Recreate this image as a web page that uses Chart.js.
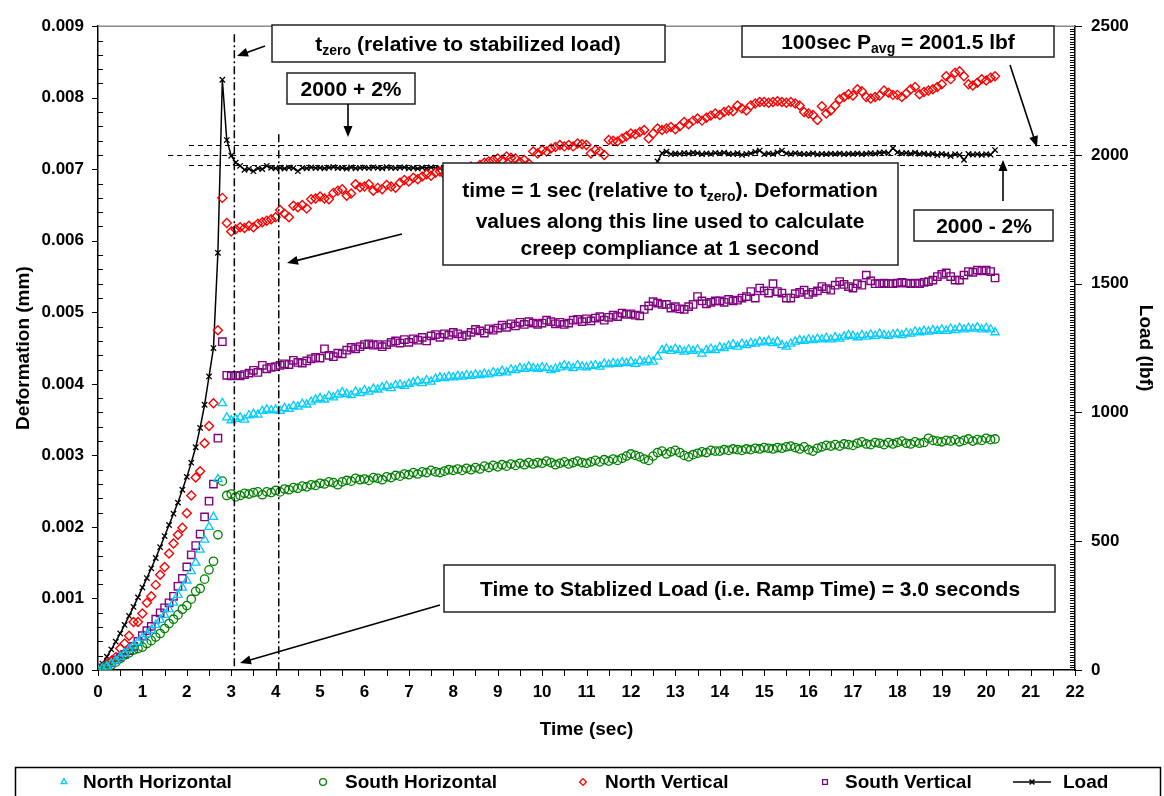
<!DOCTYPE html>
<html><head><meta charset="utf-8">
<script src="https://cdn.jsdelivr.net/npm/chart.js@4.4.1/dist/chart.umd.min.js"></script>
<style>html,body{margin:0;padding:0;background:#fff;overflow:hidden}canvas{display:block}</style>
</head><body>
<canvas id="chart" width="1164" height="796"></canvas>
<script>
// ---------------- DATA ----------------
const time = [
0,0.1,0.2,0.3,0.4,0.5,0.6,0.7,0.8,0.9,
1,1.1,1.2,1.3,1.4,1.5,1.6,1.7,1.8,1.9,
2,2.1,2.2,2.3,2.4,2.5,2.6,2.7,2.8,2.9,
3,3.1,3.2,3.3,3.4,3.5,3.6,3.7,3.8,3.9,
4,4.1,4.2,4.3,4.4,4.5,4.6,4.7,4.8,4.9,
5,5.1,5.2,5.3,5.4,5.5,5.6,5.7,5.8,5.9,
6,6.1,6.2,6.3,6.4,6.5,6.6,6.7,6.8,6.9,
7,7.1,7.2,7.3,7.4,7.5,7.6,7.7,7.8,7.9,
8,8.1,8.2,8.3,8.4,8.5,8.6,8.7,8.8,8.9,
9,9.1,9.2,9.3,9.4,9.5,9.6,9.7,9.8,9.9,
10,10.1,10.2,10.3,10.4,10.5,10.6,10.7,10.8,10.9,
11,11.1,11.2,11.3,11.4,11.5,11.6,11.7,11.8,11.9,
12,12.1,12.2,12.3,12.4,12.5,12.6,12.7,12.8,12.9,
13,13.1,13.2,13.3,13.4,13.5,13.6,13.7,13.8,13.9,
14,14.1,14.2,14.3,14.4,14.5,14.6,14.7,14.8,14.9,
15,15.1,15.2,15.3,15.4,15.5,15.6,15.7,15.8,15.9,
16,16.1,16.2,16.3,16.4,16.5,16.6,16.7,16.8,16.9,
17,17.1,17.2,17.3,17.4,17.5,17.6,17.7,17.8,17.9,
18,18.1,18.2,18.3,18.4,18.5,18.6,18.7,18.8,18.9,
19,19.1,19.2,19.3,19.4,19.5,19.6,19.7,19.8,19.9,
20,20.1,20.2];

const northHorizontal = [
0,0.00002,0.00005,0.00009,0.00013,0.00018,0.00023,0.00029,0.00034,0.00039,
0.00045,0.0005,0.00056,0.00063,0.0007,0.00077,0.00085,0.00094,0.00105,0.00115,
0.00125,0.00138,0.0015,0.00168,0.00182,0.002,0.00214,0.00267,0.00373,0.00353,
0.00349,0.00351,0.00353,0.0035,0.00356,0.00358,0.00357,0.00362,0.00364,0.00363,
0.00364,0.00362,0.00366,0.00365,0.00369,0.00368,0.00372,0.00371,0.00375,0.00378,
0.0038,0.00378,0.00383,0.00381,0.00385,0.00388,0.00386,0.00384,0.00389,0.00387,
0.00391,0.00389,0.00393,0.00392,0.00395,0.00397,0.00394,0.00398,0.00399,0.00397,
0.004,0.00402,0.00404,0.00401,0.00405,0.00403,0.00407,0.00409,0.00408,0.0041,
0.00409,0.00411,0.0041,0.00412,0.00411,0.00413,0.00412,0.00414,0.00413,0.00416,
0.00415,0.00418,0.00416,0.0042,0.00419,0.00422,0.00421,0.00424,0.00422,0.00421,
0.00423,0.00422,0.00419,0.00421,0.00423,0.00426,0.00424,0.00422,0.00426,0.00424,
0.00423,0.00425,0.00426,0.00424,0.00428,0.00427,0.00429,0.00428,0.0043,0.00429,
0.00431,0.00428,0.00432,0.0043,0.00433,0.00431,0.00438,0.00447,0.00449,0.00446,
0.00449,0.00447,0.00445,0.00448,0.00446,0.00448,0.00442,0.00447,0.00449,0.00447,
0.00451,0.0045,0.00453,0.00455,0.00452,0.00456,0.00454,0.00457,0.00456,0.00459,
0.00458,0.0046,0.00457,0.00459,0.00454,0.00452,0.00456,0.00459,0.00461,0.0046,
0.00462,0.00461,0.00463,0.00462,0.00464,0.00462,0.00465,0.00463,0.00466,0.00468,
0.00467,0.00465,0.00468,0.00466,0.00469,0.00467,0.0047,0.00468,0.00467,0.00469,
0.0047,0.00468,0.00471,0.0047,0.00473,0.00472,0.00474,0.00473,0.00475,0.00474,
0.00476,0.00474,0.00477,0.00475,0.00478,0.00476,0.00478,0.00477,0.00479,0.00476,
0.00478,0.00476,0.00472];

const southHorizontal = [
0,0.00003,0.00005,0.00007,0.00011,0.00016,0.00021,0.00024,0.00028,0.0003,
0.00032,0.00037,0.00041,0.00046,0.00051,0.00058,0.00065,0.00071,0.00077,0.00085,
0.0009,0.00099,0.0011,0.00114,0.00127,0.0014,0.00152,0.00189,0.00264,0.00244,
0.00246,0.00242,0.00244,0.00247,0.00246,0.00248,0.00249,0.00245,0.00249,0.00248,
0.00251,0.00249,0.00253,0.00252,0.00255,0.00254,0.00257,0.00256,0.00259,0.00258,
0.00261,0.0026,0.00263,0.00262,0.00259,0.00263,0.00265,0.00264,0.00268,0.00266,
0.00267,0.00265,0.00269,0.00268,0.00266,0.0027,0.00269,0.00272,0.00271,0.00274,
0.00273,0.00276,0.00274,0.00277,0.00276,0.00279,0.00277,0.00276,0.00278,0.0028,
0.00279,0.00281,0.00279,0.00282,0.0028,0.00283,0.00281,0.00285,0.00283,0.00286,
0.00284,0.00287,0.00285,0.00288,0.00286,0.00289,0.00287,0.0029,0.00288,0.0029,
0.00289,0.00292,0.0029,0.00287,0.00289,0.00291,0.00288,0.0029,0.00292,0.0029,
0.00289,0.00291,0.00293,0.00291,0.00294,0.00292,0.00295,0.00293,0.00296,0.00299,
0.00302,0.003,0.00298,0.00295,0.00293,0.00299,0.00304,0.00306,0.00302,0.00305,
0.00307,0.00304,0.003,0.00298,0.00301,0.00303,0.00305,0.00304,0.00307,0.00306,
0.00306,0.00308,0.00307,0.00309,0.00308,0.00307,0.00309,0.00308,0.0031,0.00309,
0.00311,0.0031,0.00309,0.00311,0.0031,0.00312,0.00313,0.00311,0.00309,0.00312,
0.00308,0.00306,0.0031,0.00312,0.00314,0.00313,0.00315,0.00313,0.00316,0.00315,
0.00314,0.00317,0.00319,0.00316,0.00315,0.00318,0.00317,0.00315,0.00318,0.00316,
0.00318,0.0032,0.00317,0.00316,0.00319,0.00317,0.00318,0.00324,0.00321,0.0032,
0.00319,0.00321,0.0032,0.00322,0.00319,0.00321,0.00323,0.0032,0.00322,0.00321,
0.00324,0.00322,0.00323];

const northVertical = [
0,0.00003,0.00008,0.00013,0.00018,0.0003,0.00037,0.00048,0.00067,0.00067,
0.00079,0.00094,0.00103,0.00119,0.00133,0.00144,0.00163,0.00177,0.00189,0.00199,
0.00219,0.00244,0.00269,0.00278,0.00317,0.00341,0.00373,0.00475,0.0066,0.00625,
0.00613,0.00616,0.00619,0.00618,0.00621,0.00619,0.00624,0.00626,0.00628,0.0063,
0.00633,0.00643,0.00638,0.00633,0.00649,0.00647,0.0065,0.00645,0.00658,0.00659,
0.00662,0.00659,0.00658,0.00667,0.0067,0.00672,0.00663,0.00666,0.00679,0.00675,
0.00676,0.00679,0.0067,0.00674,0.00672,0.00678,0.00676,0.00674,0.00681,0.00685,
0.00683,0.00688,0.00686,0.0069,0.00693,0.00691,0.00695,0.00697,0.00693,0.00695,
0.00698,0.00695,0.00697,0.007,0.00704,0.00702,0.00706,0.00709,0.00711,0.00713,
0.00715,0.00713,0.00718,0.00716,0.00715,0.0071,0.00713,0.00708,0.00725,0.00722,
0.00727,0.00725,0.00729,0.00731,0.00734,0.00732,0.00734,0.00732,0.00736,0.00735,
0.00734,0.00722,0.00727,0.00725,0.0072,0.00741,0.0074,0.00739,0.00743,0.00746,
0.0075,0.00749,0.00752,0.00755,0.00743,0.0075,0.00757,0.00755,0.00757,0.00759,
0.00756,0.0076,0.00766,0.00763,0.00768,0.00771,0.00768,0.00772,0.00775,0.00778,
0.00776,0.0078,0.00782,0.00781,0.00789,0.00785,0.00782,0.00789,0.00792,0.00794,
0.00794,0.00793,0.00794,0.00795,0.00794,0.00793,0.00794,0.00792,0.00789,0.0078,
0.00778,0.00776,0.00769,0.00788,0.00778,0.00782,0.00789,0.00798,0.00801,0.00805,
0.00803,0.00812,0.00809,0.00801,0.00799,0.00801,0.00803,0.0081,0.00807,0.00804,
0.00804,0.00801,0.00806,0.00812,0.00815,0.00805,0.00808,0.0081,0.00812,0.00815,
0.00819,0.0083,0.00826,0.00835,0.00837,0.0083,0.00819,0.00817,0.00821,0.00826,
0.00824,0.00828,0.0083];

const southVertical = [
0,0.00003,0.00006,0.0001,0.00014,0.00018,0.00022,0.00027,0.00033,0.0004,
0.00048,0.00055,0.00061,0.00071,0.0008,0.00087,0.00094,0.00103,0.00117,0.00128,
0.00144,0.00161,0.00174,0.0019,0.00214,0.00236,0.0026,0.00324,0.00459,0.00412,
0.00411,0.00412,0.00411,0.00413,0.00415,0.00419,0.00416,0.00426,0.00421,0.00423,
0.00424,0.00426,0.00428,0.00427,0.00433,0.0043,0.00429,0.00432,0.00435,0.00437,
0.00436,0.00449,0.0044,0.00438,0.00443,0.00442,0.00447,0.00451,0.00449,0.00452,
0.00455,0.00456,0.00454,0.00455,0.00452,0.00455,0.00458,0.0046,0.00457,0.00462,
0.00458,0.00463,0.00461,0.00465,0.0046,0.00467,0.00469,0.00465,0.0047,0.00468,
0.00472,0.0047,0.00466,0.00468,0.00472,0.00476,0.00474,0.00471,0.00477,0.00475,
0.00478,0.00482,0.00479,0.00484,0.00481,0.00486,0.00483,0.00487,0.00485,0.00483,
0.00485,0.00489,0.00487,0.00484,0.00486,0.00483,0.00485,0.00489,0.0049,0.00487,
0.00491,0.00488,0.00492,0.00494,0.00489,0.00493,0.00496,0.00494,0.00499,0.00497,
0.00498,0.00496,0.00495,0.00504,0.00509,0.00515,0.00513,0.00511,0.00511,0.00506,
0.00508,0.00505,0.00504,0.00508,0.00511,0.00522,0.00516,0.00512,0.00514,0.00516,
0.00516,0.00514,0.00518,0.00516,0.00517,0.0052,0.00522,0.00529,0.0052,0.00534,
0.0053,0.00527,0.0054,0.00529,0.00527,0.0052,0.0052,0.00526,0.00528,0.00531,
0.00525,0.00528,0.0053,0.00536,0.00533,0.00531,0.00538,0.00543,0.00539,0.00536,
0.00534,0.0054,0.00538,0.00552,0.00544,0.0054,0.0054,0.00541,0.0054,0.0054,
0.00541,0.00542,0.00541,0.0054,0.00541,0.0054,0.00542,0.00543,0.00545,0.0055,
0.00553,0.00555,0.0055,0.00545,0.00545,0.00552,0.00557,0.00556,0.00559,0.00558,
0.00559,0.00557,0.00548];

const load = [
0,25,52,80,110,142,175,210,245,282,
320,357,395,435,477,520,563,607,650,700,
750,805,865,940,1030,1140,1250,1620,2292,2058,
1997,1970,1958,1942,1946,1937,1948,1945,1958,1950,
1948,1950,1947,1951,1949,1937,1950,1948,1952,1949,
1950,1948,1951,1953,1949,1950,1947,1952,1948,1950,
1951,1949,1952,1950,1948,1953,1950,1949,1951,1952,
1948,1950,1947,1951,1949,1952,1950,1948,1946,1949,
1951,1948,1946,1944,1949,1947,1950,1945,1948,1951,
1949,1952,1950,1953,1937,1948,1951,1949,1952,1950,
1948,1950,1947,1936,1949,1951,1948,1950,1952,1949,
1950,1947,1951,1936,1949,1952,1948,1950,1947,1930,
1945,1948,1944,1946,1947,1950,1975,2007,2013,2003,
2006,2004,2008,2005,2009,2007,2003,2006,2004,2008,
2006,2009,2005,2003,2007,2000,2004,2006,2012,2017,
2003,2006,2004,2010,2017,2006,2004,2007,2005,2003,
2004,2006,2002,2004,2003,2005,2004,2006,2003,2005,
2004,2006,2003,2005,2007,2005,2009,2010,2007,2026,
2010,2006,2008,2005,2009,2004,2006,2002,2005,1999,
2004,2001,1996,2003,2000,1981,2004,2001,2003,2000,
2003,2001,2019];

const xTicks = {min:0, max:22, step:1};
const deformTicks = {min:0, max:0.009, step:0.001};
const loadTicks = {min:0, max:2500, step:500};

// reference levels used by the annotation lines
const loadUpper = 2040, loadAvg = 2001.5, loadLower = 1960;
const tZero = 3.07, tOneSec = 4.07;

// ---------------- DRAWING ----------------
const F = '"Liberation Sans", Arial, Helvetica, sans-serif';
function pts(s){ return time.map((t,i)=>({x:t, y:s[i]})); }

function richWidth(ctx, segs, size){
  let w=0;
  for(const s of segs){ ctx.font = 'bold '+(s.sub?Math.round(size*0.68):size)+'px '+F; w+=ctx.measureText(s.t).width; }
  return w;
}
function drawRich(ctx, segs, cx, cy, size){
  const w = richWidth(ctx, segs, size);
  let x = cx - w/2;
  const base = cy + size*0.36;
  ctx.textAlign='left'; ctx.textBaseline='alphabetic'; ctx.fillStyle='#000';
  for(const s of segs){
    const fs = s.sub?Math.round(size*0.68):size;
    ctx.font='bold '+fs+'px '+F;
    ctx.fillText(s.t, x, s.sub ? base + size*0.22 : base);
    x += ctx.measureText(s.t).width;
  }
}
function arrow(ctx,x1,y1,x2,y2){
  const a=Math.atan2(y2-y1,x2-x1), L=11, W=4.5;
  ctx.beginPath(); ctx.moveTo(x1,y1); ctx.lineTo(x2-L*0.7*Math.cos(a), y2-L*0.7*Math.sin(a)); ctx.stroke();
  ctx.beginPath(); ctx.moveTo(x2,y2);
  ctx.lineTo(x2-L*Math.cos(a)+W*Math.sin(a), y2-L*Math.sin(a)-W*Math.cos(a));
  ctx.lineTo(x2-L*Math.cos(a)-W*Math.sin(a), y2-L*Math.sin(a)+W*Math.cos(a));
  ctx.closePath(); ctx.fill();
}
function box(ctx,x1,y1,x2,y2){
  ctx.fillStyle='#fff'; ctx.fillRect(x1,y1,x2-x1,y2-y1);
  ctx.strokeStyle='#222'; ctx.lineWidth=1.5; ctx.strokeRect(x1,y1,x2-x1,y2-y1);
}

const decor = {
  id:'decor',
  afterDraw(chart){
    const {ctx, chartArea:a, scales} = chart;
    const x=scales.x, y=scales.y, y1=scales.y1;
    ctx.save();
    // top frame line
    ctx.strokeStyle='#8a8a8a'; ctx.lineWidth=1.5;
    ctx.beginPath(); ctx.moveTo(a.left,a.top); ctx.lineTo(a.right,a.top); ctx.stroke();
    // tick marks
    ctx.strokeStyle='#000'; ctx.lineWidth=1;
    ctx.beginPath();
    for(let k=0;k<=44;k++){ const px=Math.round(x.getPixelForValue(k*0.5))+0.5; ctx.moveTo(px,a.bottom); ctx.lineTo(px,a.bottom+6); }
    for(let k=0;k<=45;k++){ const py=Math.round(y.getPixelForValue(k*0.0002))+0.5;
      if(k%5===0){ ctx.moveTo(a.left-6,py); ctx.lineTo(a.left,py);} else { ctx.moveTo(a.left,py); ctx.lineTo(a.left+5,py);} }
    for(let k=0;k<=250;k++){ const py=Math.round(y1.getPixelForValue(k*10))+0.5;
      if(k%50===0){ ctx.moveTo(a.right,py); ctx.lineTo(a.right+7,py);} else { ctx.moveTo(a.right-5,py); ctx.lineTo(a.right,py);} }
    ctx.stroke();

    // dash-dot vertical lines
    ctx.strokeStyle='#000'; ctx.lineWidth=1.5; ctx.setLineDash([8,3,2,3]);
    let px = x.getPixelForValue(tZero);
    ctx.beginPath(); ctx.moveTo(px, a.top+8); ctx.lineTo(px, a.bottom); ctx.stroke();
    px = x.getPixelForValue(tOneSec);
    ctx.beginPath(); ctx.moveTo(px, a.top+108); ctx.lineTo(px, a.bottom); ctx.stroke();
    // dashed horizontal lines
    ctx.lineWidth=1.2; ctx.setLineDash([5,4]);
    [[loadUpper,2.05],[loadAvg,1.58],[loadLower,2.05]].forEach(([v,t0])=>{
      const py = Math.round(y1.getPixelForValue(v))+0.5;
      ctx.beginPath(); ctx.moveTo(x.getPixelForValue(t0), py); ctx.lineTo(a.right, py); ctx.stroke();
    });
    ctx.setLineDash([]);

    // annotation boxes
    const S=21;
    box(ctx,272,25,665,62);
    drawRich(ctx,[{t:'t'},{t:'zero',sub:true},{t:' (relative to stabilized load)'}],468,43,S);
    box(ctx,287,73,415,104);
    drawRich(ctx,[{t:'2000 + 2%'}],351,88.5,S);
    box(ctx,742,26,1054,57);
    drawRich(ctx,[{t:'100sec P'},{t:'avg',sub:true},{t:' = 2001.5 lbf'}],898,41,S);
    box(ctx,914,210,1053,241);
    drawRich(ctx,[{t:'2000 - 2%'}],984,225.5,S);
    box(ctx,443,163,898,265);
    drawRich(ctx,[{t:'time = 1 sec (relative to t'},{t:'zero',sub:true},{t:'). Deformation'}],670,189,S);
    drawRich(ctx,[{t:'values along this line used to calculate'}],670,220,S);
    drawRich(ctx,[{t:'creep compliance at 1 second'}],670,247,S);
    box(ctx,444,565,1055,612);
    drawRich(ctx,[{t:'Time to Stablized Load (i.e. Ramp Time) = 3.0 seconds'}],750,588,S);

    // arrows
    ctx.strokeStyle='#000'; ctx.fillStyle='#000'; ctx.lineWidth=1.6;
    arrow(ctx,265,46,237,56);
    arrow(ctx,348,104,348,137);
    arrow(ctx,1010,65,1037,147);
    arrow(ctx,1003,201,1003,160);
    arrow(ctx,402,234,287,263);
    arrow(ctx,440,605,240,663);

    // legend
    ctx.strokeStyle='#000'; ctx.lineWidth=1.5;
    ctx.strokeRect(15.5,767.5,1145,40);
    const items=[{mx:64,tx:83},{mx:323,tx:345},{mx:583,tx:605},{mx:825,tx:845},{mx:1032,tx:1063}];
    const ly=782;
    chart.data.datasets.forEach((ds,i)=>{
      const it=items[i];
      ctx.strokeStyle=ds.borderColor; ctx.fillStyle='rgba(0,0,0,0)'; ctx.lineWidth=1.3;
      if(ds.showLine){
        ctx.beginPath(); ctx.moveTo(it.mx-19,ly); ctx.lineTo(it.mx+19,ly); ctx.lineWidth=1.5; ctx.stroke();
      }
      Chart.helpers.drawPoint(ctx,{pointStyle:ds.pointStyle, radius:3.4, rotation:0, borderWidth:1.4}, it.mx, ly);
      ctx.fillStyle='#000'; ctx.font='bold 19px '+F; ctx.textAlign='left'; ctx.textBaseline='middle';
      ctx.fillText(ds.label, it.tx, ly+1);
    });
    ctx.restore();
  }
};

const tickFont = {family:F, size:17, weight:'bold'};
const titleFont = {family:F, size:19, weight:'bold'};

new Chart(document.getElementById('chart'), {
  type:'scatter',
  data:{datasets:[
    {label:'North Horizontal', data:pts(northHorizontal), yAxisID:'y', showLine:false, pointStyle:'triangle', pointRadius:4.8, pointBorderWidth:1.3, borderColor:'#00CCFF', backgroundColor:'rgba(0,0,0,0)'},
    {label:'South Horizontal', data:pts(southHorizontal), yAxisID:'y', showLine:false, pointStyle:'circle', pointRadius:4.2, pointBorderWidth:1.3, borderColor:'#008000', backgroundColor:'rgba(0,0,0,0)'},
    {label:'North Vertical', data:pts(northVertical), yAxisID:'y', showLine:false, pointStyle:'rectRot', pointRadius:4.5, pointBorderWidth:1.4, borderColor:'#FF0000', backgroundColor:'rgba(0,0,0,0)'},
    {label:'South Vertical', data:pts(southVertical), yAxisID:'y', showLine:false, pointStyle:'rect', pointRadius:5.2, pointBorderWidth:1.4, borderColor:'#800080', backgroundColor:'rgba(0,0,0,0)'},
    {label:'Load', data:pts(load), yAxisID:'y1', showLine:true, tension:0, borderWidth:1.5, pointStyle:'crossRot', pointRadius:3.8, pointBorderWidth:1.3, borderColor:'#000', backgroundColor:'#000'}
  ]},
  options:{
    responsive:false, devicePixelRatio:1, animation:false,
    layout:{padding:{left:0,right:0,top:18,bottom:46}},
    plugins:{legend:{display:false}, tooltip:{enabled:false}},
    scales:{
      x:{type:'linear', position:'bottom', min:xTicks.min, max:xTicks.max,
        afterFit(s){ s.height=80; },
        grid:{display:false, drawTicks:false}, border:{display:true, color:'#000', width:1.5},
        ticks:{stepSize:xTicks.step, autoSkip:false, maxRotation:0, padding:12, color:'#000', font:tickFont},
        title:{display:true, text:'Time (sec)', color:'#000', font:titleFont, padding:{top:0,bottom:9}}},
      y:{type:'linear', position:'left', min:deformTicks.min, max:deformTicks.max,
        afterFit(s){ s.width=98; },
        grid:{display:false, drawTicks:false}, border:{display:true, color:'#000', width:1.5},
        ticks:{stepSize:deformTicks.step, padding:14, color:'#000', font:tickFont, callback:v=>Number(v).toFixed(3)},
        title:{display:true, text:'Deformation (mm)', color:'#000', font:titleFont, padding:{top:12,bottom:0}}},
      y1:{type:'linear', position:'right', min:loadTicks.min, max:loadTicks.max,
        afterFit(s){ s.width=89; },
        grid:{display:false, drawTicks:false}, border:{display:true, color:'#000', width:1.5},
        ticks:{stepSize:loadTicks.step, padding:16, color:'#000', font:tickFont, callback:v=>String(Math.round(v))},
        title:{display:true, text:'Load (lbf)', color:'#000', font:titleFont, padding:{top:7,bottom:0}}}
    }
  },
  plugins:[decor]
});
</script>
</body></html>
